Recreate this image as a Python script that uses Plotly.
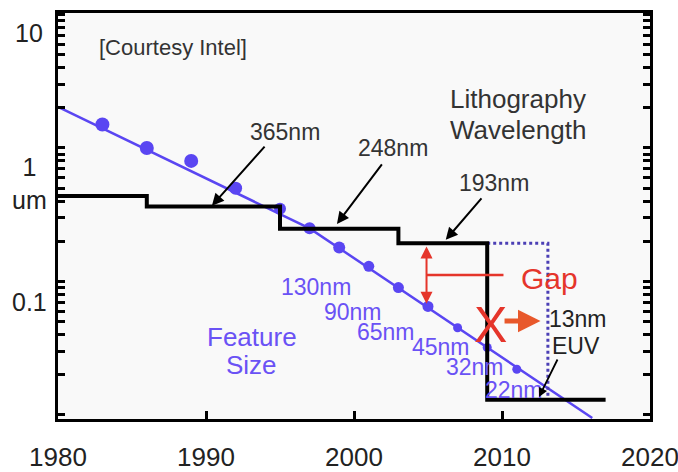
import numpy as np
import plotly.graph_objects as go

# ---- data ----
node_years = [1983, 1986, 1989, 1992, 1995, 1997, 1999, 2001, 2003, 2005, 2007, 2009, 2011]
feature_um = [1.5, 1.0, 0.8, 0.5, 0.35, 0.25, 0.18, 0.13, 0.09, 0.065, 0.045, 0.032, 0.022]

trend_years = [1980, 1997, 2016.1]
trend_um = [2.03, 0.25, 0.0095]

litho_years = [1980, 1986, 1995, 2003, 2009, 2017]
litho_um = [0.436, 0.365, 0.248, 0.193, 0.013, 0.013]

euv_years = [2009, 2013.1, 2013.1]
euv_um = [0.193, 0.193, 0.013]

y_tick_vals = [10, 1, 0.1]
y_tick_text = ["10", "1<br>um", "0.1"]
x_tick_vals = [1980, 1990, 2000, 2010, 2020]

blue_labels = ["130nm", "90nm", "65nm", "45nm", "32nm", "22nm"]
blue_label_years = [1997.43, 1999.93, 2002.16, 2005.88, 2008.18, 2010.81]
blue_label_um = [0.091, 0.059, 0.042, 0.0323, 0.0229, 0.0154]

wl_labels = ["365nm", "248nm", "193nm"]
wl_label_years = [1995.34, 2002.64, 2009.46]
wl_label_um = [1.32, 1.0, 0.547]
wl_arrow_tail_years = [1994.05, 2001.96, 2008.7]
wl_arrow_tail_um = [1.05, 0.773, 0.43]
wl_arrow_tip_years = [1990.4, 1998.85, 2006.2]
wl_arrow_tip_um = [0.37, 0.27, 0.205]

BLUE = "#5a46f2"
BLUE_TXT = "#6a52f5"
RED = "#e5352b"
ORANGE = "#e8582b"
DARK = "#222222"
GREY = "#333333"
FONT = "Liberation Sans, Arial, sans-serif"

L = np.log10

fig = go.Figure()

fig.add_trace(go.Scatter(x=trend_years, y=trend_um, mode="lines",
                         line=dict(color=BLUE, width=2.5), hoverinfo="skip"))
fig.add_trace(go.Scatter(x=node_years, y=feature_um, mode="markers", opacity=1,
                         marker=dict(color=BLUE, opacity=1, line=dict(width=0),
                                     size=[14, 14, 14, 13, 12, 12, 12, 11, 11, 11, 9, 9, 9]),
                         hoverinfo="skip"))
fig.add_trace(go.Scatter(x=euv_years, y=euv_um, mode="lines",
                         line=dict(color="#4b3fb5", width=3, dash="dot"), hoverinfo="skip"))
fig.add_trace(go.Scatter(x=litho_years, y=litho_um, mode="lines", line_shape="hv",
                         line=dict(color="black", width=4), hoverinfo="skip"))
# gap horizontal connector
fig.add_trace(go.Scatter(x=[2004.9, 2010.1], y=[0.112, 0.112], mode="lines",
                         line=dict(color=RED, width=2.5), hoverinfo="skip"))

ann = []
# y tick labels (offset below their ticks as in the reference)
for v, t, sh in zip(y_tick_vals, y_tick_text, [-19, -36, -21]):
    ann.append(dict(x=0, xref="paper", y=L(v), yref="y", text=t, showarrow=False,
                    xanchor="center", yanchor="middle", xshift=-29, yshift=sh,
                    font=dict(size=25, color=DARK, family=FONT)))

ann.append(dict(x=1987.8, y=0.749, text="[Courtesy Intel]", showarrow=False,
                font=dict(size=22, color=GREY, family=FONT)))
ann.append(dict(x=2011.08, y=0.367, text="Lithography", showarrow=False,
                font=dict(size=26, color=GREY, family=FONT)))
ann.append(dict(x=2011.08, y=0.135, text="Wavelength", showarrow=False,
                font=dict(size=26, color=GREY, family=FONT)))

for t, xx, yy in zip(wl_labels, wl_label_years, wl_label_um):
    ann.append(dict(x=xx, y=L(yy), text=t, showarrow=False,
                    font=dict(size=23, color=GREY, family=FONT)))
for ax_, ay_, x_, y_ in zip(wl_arrow_tail_years, wl_arrow_tail_um, wl_arrow_tip_years, wl_arrow_tip_um):
    ann.append(dict(x=x_, y=L(y_), ax=ax_, ay=L(ay_), axref="x", ayref="y", text="",
                    showarrow=True, arrowhead=2, arrowsize=1.2, arrowwidth=2, arrowcolor="black"))

for t, xx, yy in zip(blue_labels, blue_label_years, blue_label_um):
    ann.append(dict(x=xx, y=L(yy), text=t, showarrow=False,
                    font=dict(size=23, color=BLUE_TXT, family=FONT)))
ann.append(dict(x=1993.1, y=-1.415, text="Feature", showarrow=False,
                font=dict(size=26, color=BLUE_TXT, family=FONT)))
ann.append(dict(x=1993.1, y=-1.625, text="Size", showarrow=False,
                font=dict(size=26, color=BLUE_TXT, family=FONT)))

# Gap arrow
ann.append(dict(x=2004.9, y=L(0.068), ax=2004.9, ay=L(0.188), axref="x", ayref="y", text="",
                showarrow=True, arrowhead=2, arrowside="end+start", arrowsize=1.2,
                arrowwidth=2, arrowcolor=RED))
ann.append(dict(x=2013.24, y=-0.981, text="Gap", showarrow=False,
                font=dict(size=30, color=RED, family=FONT)))
ann.append(dict(x=2009.2, y=-1.326, text="X", showarrow=False,
                font=dict(size=50, color=RED, family=FONT)))
ann.append(dict(x=2012.6, y=-1.296, ax=2010.07, ay=-1.296, axref="x", ayref="y", text="",
                showarrow=True, arrowhead=2, arrowsize=0.9, arrowwidth=5, arrowcolor=ORANGE))
ann.append(dict(x=2015.14, y=-1.281, text="13nm", showarrow=False,
                font=dict(size=23, color=DARK, family=FONT)))
ann.append(dict(x=2015.0, y=-1.483, text="EUV", showarrow=False,
                font=dict(size=23, color=DARK, family=FONT)))
ann.append(dict(x=2012.5, y=-1.865, ax=2013.8, ay=-1.573, axref="x", ayref="y", text="",
                showarrow=True, arrowhead=2, arrowsize=1, arrowwidth=1.8, arrowcolor="black"))

for a in ann:
    a.setdefault("xref", "x")
    a.setdefault("yref", "y")

fig.update_layout(
    width=678, height=472,
    margin=dict(l=58, r=28, t=13, b=53, autoexpand=False),
    paper_bgcolor="white", plot_bgcolor="#f9f9f9",
    showlegend=False,
    annotations=ann,
    xaxis=dict(range=[1980, 2020], tickvals=x_tick_vals, ticks="inside", ticklen=8,
               tickwidth=3, tickcolor="black", showline=True, linewidth=3, linecolor="black",
               mirror=True, showgrid=False, zeroline=False, automargin=False,
               ticklabeloverflow="allow",
               tickfont=dict(size=26, color=DARK, family=FONT), ticklabelstandoff=13),
    yaxis=dict(type="log", range=[-2.03, 1.011], ticks="inside", ticklen=7, tickwidth=3,
               tickcolor="black", dtick=1, showticklabels=False, automargin=False,
               minor=dict(ticks="inside", ticklen=7, tickwidth=2.5, tickcolor="black", dtick="D1", showgrid=False),
               showline=True, linewidth=3, linecolor="black", mirror="allticks",
               showgrid=False, zeroline=False),
)

fig.write_html("out.html", config={"displayModeBar": False},
               post_script="document.body.style.margin='0';document.body.style.overflow='hidden';")
